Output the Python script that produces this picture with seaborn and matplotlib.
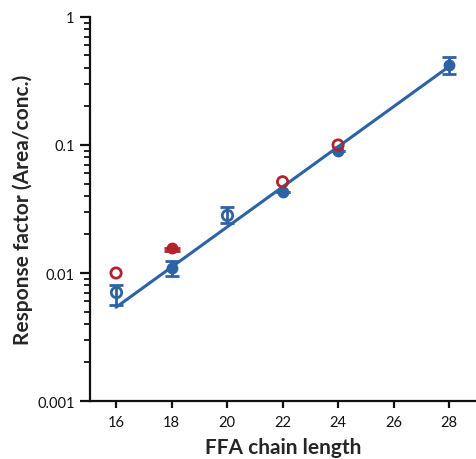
import matplotlib
matplotlib.use("Agg")
import matplotlib.pyplot as plt
from matplotlib.ticker import LogLocator, FixedLocator, NullFormatter, FuncFormatter
import numpy as np
import pandas as pd
import seaborn as sns

# Response factors by free fatty acid chain length
chain_open_blue = [16, 20]
rf_open_blue = [0.0071, 0.0284]
err_open_blue_lo = [0.0015, 0.0038]
err_open_blue_hi = [0.0010, 0.0042]

chain_filled_blue = [18, 22, 24, 28]
rf_filled_blue = [0.0110, 0.0427, 0.0903, 0.42]
err_filled_blue_lo = [0.0016, 0.0, 0.0, 0.061]
err_filled_blue_hi = [0.0015, 0.0, 0.0, 0.064]

chain_open_red = [16, 22, 24]
rf_open_red = [0.0100, 0.0516, 0.100]

chain_filled_red = [18]
rf_filled_red = [0.0157]
err_filled_red_lo = [0.0009]
err_filled_red_hi = [0.0001]

# Log-linear fit line
fit_chain = [16, 28]
fit_rf = [0.0054, 0.41]

x_ticks = [16, 18, 20, 22, 24, 26, 28]
y_ticks = [0.001, 0.01, 0.1, 1]
y_tick_labels = ["0.001", "0.01", "0.1", "1"]

BLUE = "#2b63a6"
RED = "#b3232b"

sns.set_style("ticks")
plt.rcParams["font.family"] = ["Lato", "DejaVu Sans"]

fig = plt.figure(figsize=(4.76, 4.60), dpi=100)
ax = fig.add_axes([0.189, 0.126, 0.811, 0.835])

fit_df = pd.DataFrame({"chain": fit_chain, "rf": fit_rf})
sns.lineplot(data=fit_df, x="chain", y="rf", color=BLUE, linewidth=2.2, ax=ax, zorder=2)

ax.errorbar(chain_open_blue, rf_open_blue, yerr=[err_open_blue_lo, err_open_blue_hi],
            fmt="o", mfc="none", mec=BLUE, mew=2.0, ms=7.5, ecolor=BLUE,
            elinewidth=2.0, capsize=5, capthick=2.0, zorder=3)
ax.errorbar(chain_filled_blue, rf_filled_blue, yerr=[err_filled_blue_lo, err_filled_blue_hi],
            fmt="o", mfc=BLUE, mec=BLUE, ms=7.5, ecolor=BLUE,
            elinewidth=2.0, capsize=5, capthick=2.0, zorder=3)
ax.errorbar(chain_filled_red, rf_filled_red, yerr=[err_filled_red_lo, err_filled_red_hi],
            fmt="o", mfc=RED, mec=RED, ms=7.5, ecolor=RED,
            elinewidth=2.0, capsize=5.5, capthick=2.0, zorder=4)
sns.scatterplot(x=chain_open_red, y=rf_open_red, marker="o", s=55,
                facecolor="none", edgecolor=RED, linewidth=2.0, ax=ax, zorder=4)

ax.set_yscale("log")
ax.set_ylim(0.001, 1)
ax.set_xlim(15.06, 28.97)
ax.yaxis.set_major_locator(FixedLocator(y_ticks))
ax.yaxis.set_major_formatter(FuncFormatter(lambda v, p: y_tick_labels[y_ticks.index(v)] if v in y_ticks else ""))
ax.yaxis.set_minor_locator(LogLocator(base=10, subs=np.arange(2, 10)))
ax.yaxis.set_minor_formatter(NullFormatter())
ax.set_xticks(x_ticks)

for side in ("top", "right"):
    ax.spines[side].set_visible(False)
for side in ("left", "bottom"):
    ax.spines[side].set_linewidth(1.6)
    ax.spines[side].set_color("#111111")

ax.tick_params(axis="both", which="major", direction="out", length=7, width=1.6,
               labelsize=10.5, colors="#111111", pad=4)
ax.tick_params(axis="y", which="minor", direction="out", length=4, width=1.3, colors="#111111")
ax.tick_params(axis="x", which="major", length=5, pad=5)

ax.set_xlabel("FFA chain length", fontsize=15, fontweight="bold", labelpad=6)
ax.set_ylabel("Response factor (Area/conc.)", fontsize=15, fontweight="bold", labelpad=3)

fig.savefig("out.png", dpi=100)
